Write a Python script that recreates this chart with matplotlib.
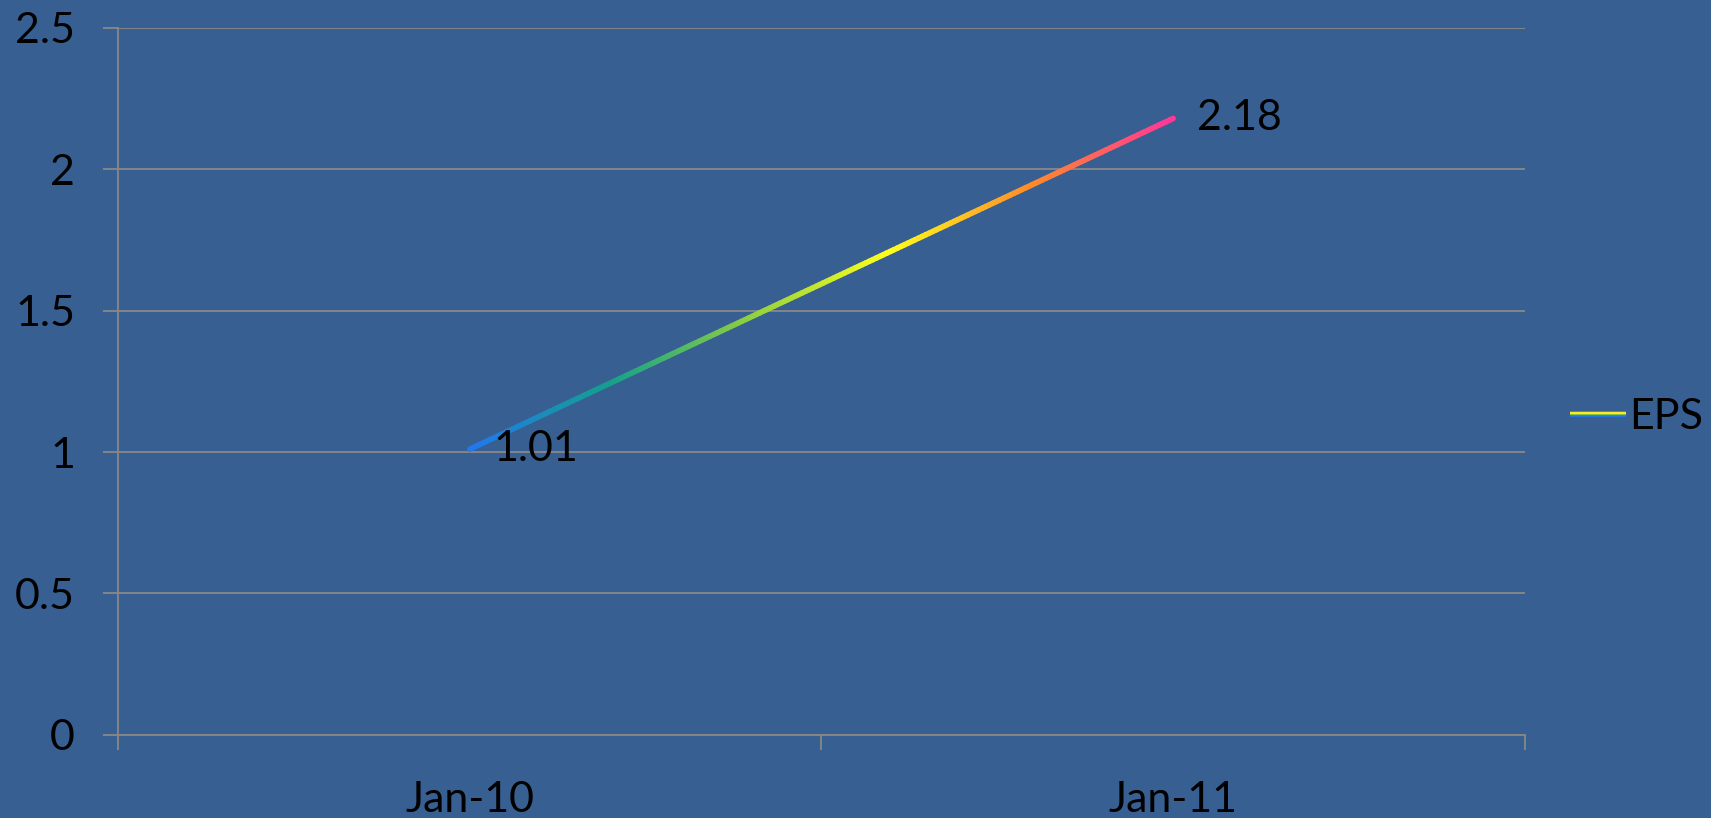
import numpy as np
import matplotlib
matplotlib.use('Agg')
import matplotlib.pyplot as plt
from matplotlib.collections import LineCollection
from matplotlib.colors import LinearSegmentedColormap
from matplotlib.legend_handler import HandlerBase
from matplotlib.lines import Line2D


categories = ['Jan-10', 'Jan-11']
eps = [1.01, 2.18]
y_ticks = [0, 0.5, 1, 1.5, 2, 2.5]
y_tick_labels = ['0', '0.5', '1', '1.5', '2', '2.5']

bg = '#375f91'
grid_color = '#888888'
rainbow = LinearSegmentedColormap.from_list(
    'rainbow_eps', ['#2277ee', '#14a08c', '#8fd040', '#ffff1e', '#ff8c28', '#ff3896'])

plt.rcParams['font.family'] = ['Lato', 'DejaVu Sans']
fs = 31

fig = plt.figure(figsize=(17.11, 8.18), dpi=100, facecolor=bg)
ax = fig.add_axes([0.069, 0.1018, 0.8222, 0.864])
ax.set_facecolor(bg)

x = np.arange(len(categories)) + 0.5

# gradient stroke along the segment between the two data points
t = np.linspace(0, 1, 200)
xs = x[0] + (x[1] - x[0]) * t
ys = eps[0] + (eps[1] - eps[0]) * t
pts = np.column_stack([xs, ys]).reshape(-1, 1, 2)
segs = np.concatenate([pts[:-1], pts[1:]], axis=1)
lc = LineCollection(segs, cmap=rainbow, linewidth=4.0, capstyle='round', zorder=3)
lc.set_array(t[:-1])
ax.add_collection(lc)

for xi, yi in zip(x, eps):
    ax.annotate(f'{yi:.2f}', (xi, yi), xytext=(17, 0), textcoords='offset points',
                ha='left', va='center', fontsize=fs, color='black', zorder=4)

ax.set_xlim(0, len(categories))
ax.set_ylim(0, 2.5)
ax.set_yticks(y_ticks)
ax.set_yticklabels(y_tick_labels)
ax.yaxis.grid(True, color=grid_color, linewidth=1.3)
ax.set_axisbelow(True)

ax.set_xticks(np.arange(len(categories) + 1))
ax.set_xticklabels([])
ax.set_xticks(x, minor=True)
ax.set_xticklabels(categories, minor=True)
ax.tick_params(axis='x', which='major', length=11, width=1.3, color=grid_color, direction='out')
ax.tick_params(axis='x', which='minor', length=0, pad=33, labelsize=fs, labelcolor='black')
ax.tick_params(axis='y', length=11, width=1.3, color=grid_color, pad=20, labelsize=fs,
               labelcolor='black')

for side in ['top', 'right']:
    ax.spines[side].set_visible(False)
for side in ['left', 'bottom']:
    ax.spines[side].set_color(grid_color)
    ax.spines[side].set_linewidth(1.3)


class StripeHandler(HandlerBase):
    def create_artists(self, legend, orig_handle, xdescent, ydescent, width, height,
                       fontsize, trans):
        cols = ['#ff3896', '#ffff1e', '#8fd040', '#2277ee']
        arts = []
        y0 = height / 2 - ydescent
        for i, c in enumerate(cols):
            yy = y0 + 1.6 - i * 1.05
            ln = Line2D([-xdescent, width - xdescent], [yy, yy], color=c, linewidth=1.3,
                        transform=trans, solid_capstyle='butt')
            arts.append(ln)
        return arts


handle = Line2D([], [], color='#ff3896')
fig.legend([handle], ['EPS'], handler_map={Line2D: StripeHandler()},
           loc='center left', bbox_to_anchor=(0.895, 0.49), frameon=False,
           fontsize=fs, handlelength=1.3, handletextpad=0.08, labelcolor='black')

plt.savefig('out.png', dpi=100, facecolor=bg)
plt.close()
